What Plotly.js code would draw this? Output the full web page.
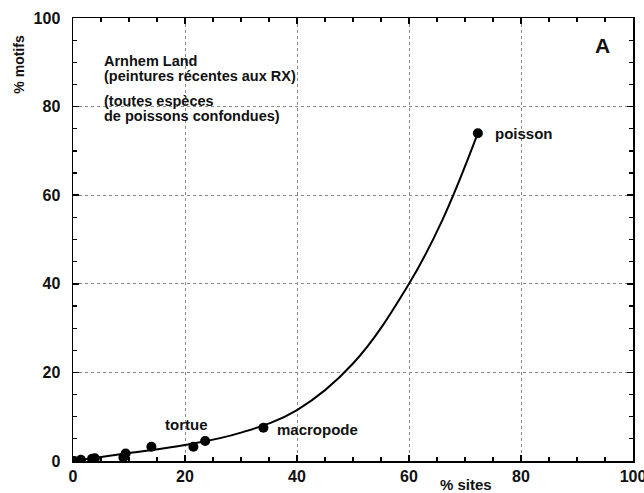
<!DOCTYPE html>
<html>
<head>
<meta charset="utf-8">
<script src="https://cdn.plot.ly/plotly-3.0.1.min.js"></script>
<style>html,body{margin:0;padding:0;background:#fff;}</style>
</head>
<body>
<div id="chart" style="width:644px;height:493px;"></div>
<script>
// Observed points (% sites, % motifs)
const siteX = [0.2, 1.4, 3.4, 3.9, 9.0, 9.4, 14.0, 21.5, 23.6, 34.0, 72.3];
const motifY = [0.0, 0.3, 0.5, 0.6, 0.8, 1.7, 3.2, 3.2, 4.5, 7.5, 74.0];
// Fitted curve
const curveX = [0, 10, 20, 30, 40, 50, 60, 66, 72.3];
const curveY = [0, 1.8, 3.6, 6.4, 11.5, 22, 40, 54.5, 74];
// Labels
const pointLabels = ["tortue", "macropode", "poisson"];
const pointLabelX = [20.3, 36.0, 75.0];
const pointLabelY = [8.2, 7.0, 74.0];
const noteLines = ["Arnhem Land", "(peintures récentes aux RX)", "(toutes espèces", "de poissons confondues)"];
const noteLineY = [90.2, 86.8, 81.2, 77.8];
const tickVals = [0, 20, 40, 60, 80, 100];

const FONT = "Liberation Sans, Arial, sans-serif";

const traces = [
  {x: curveX, y: curveY, mode: "lines", line: {color: "#000", width: 2, shape: "spline", smoothing: 1.1}, hoverinfo: "skip"},
  {x: siteX, y: motifY, mode: "markers", marker: {color: "#000", size: 10}}
];

const axisCommon = {
  range: [0, 100], tickvals: tickVals, ticks: "inside", ticklen: 6, tickwidth: 1.5, tickcolor: "#000",
  showline: true, linecolor: "#000", linewidth: 1.5, mirror: "ticks",
  showgrid: true, gridcolor: "#8a8a8a", griddash: "dot", gridwidth: 1,
  zeroline: false,
  tickfont: {family: FONT, size: 16, color: "#111", weight: "bold"},
  minor: {dtick: 5, ticks: "inside", ticklen: 4, tickwidth: 1.2, tickcolor: "#000", showgrid: false},
  ticklabeloverflow: "allow",
  fixedrange: true
};

const annotations = [
  {x: 94.5, y: 93.8, xref: "x", yref: "y", xanchor: "center", yanchor: "middle", showarrow: false,
   text: "A", font: {family: FONT, size: 21, color: "#111", weight: "bold"}},
  {x: 70.2, y: -0.052, xref: "x", yref: "paper", xanchor: "center", yanchor: "middle", showarrow: false,
   text: "% sites", font: {family: FONT, size: 15, color: "#111", weight: "bold"}},
  {x: -0.098, y: 0.895, xref: "paper", yref: "paper", xanchor: "center", yanchor: "middle", showarrow: false, textangle: -90,
   text: "% motifs", font: {family: FONT, size: 14, color: "#111", weight: "bold"}}
];
for (let i = 0; i < noteLines.length; i++) {
  annotations.push({x: 5.2, y: noteLineY[i], xref: "x", yref: "y", xanchor: "left", yanchor: "middle", showarrow: false,
    text: noteLines[i], font: {family: FONT, size: 14.5, color: "#111", weight: "bold"}});
}
for (let i = 0; i < pointLabels.length; i++) {
  annotations.push({x: pointLabelX[i], y: pointLabelY[i], xref: "x", yref: "y",
    xanchor: i === 0 ? "center" : "left", yanchor: "middle", showarrow: false,
    text: pointLabels[i], font: {family: FONT, size: 15, color: "#111", weight: "bold"}});
}

const layout = {
  width: 644, height: 493,
  margin: {l: 73, r: 11, t: 18, b: 32},
  paper_bgcolor: "#fff", plot_bgcolor: "#fff",
  showlegend: false,
  xaxis: Object.assign({}, axisCommon, {ticklabelstandoff: 0}),
  yaxis: Object.assign({}, axisCommon, {ticklabelstandoff: 8}),
  annotations: annotations,
  font: {family: FONT}
};

Plotly.newPlot("chart", traces, layout, {displayModeBar: false, staticPlot: true});
</script>
</body>
</html>
